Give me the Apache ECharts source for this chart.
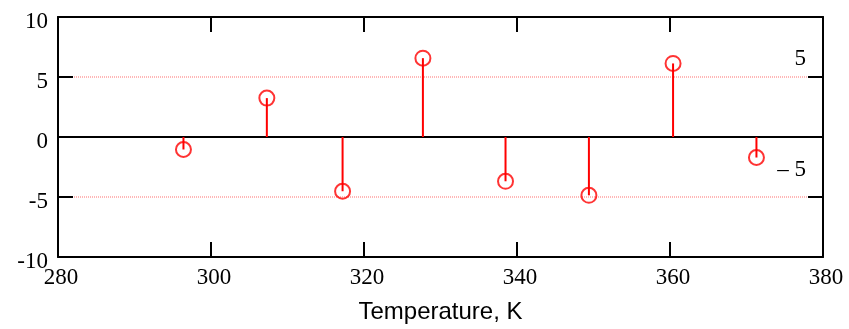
<!DOCTYPE html>
<html>
<head>
<meta charset="utf-8">
<script src="https://cdn.jsdelivr.net/npm/echarts@6/dist/echarts.min.js"></script>
<style>html,body{margin:0;padding:0;background:#fff}#c{width:849px;height:329px}</style>
</head>
<body>
<div id="c"></div>
<script>
const temperatures = [296.4, 307.3, 317.2, 327.7, 338.5, 349.4, 360.4, 371.3];
const residuals = [-1.04, 3.24, -4.52, 6.57, -3.69, -4.86, 6.13, -1.71];
const xTicks = [280, 300, 320, 340, 360, 380];
const yTicks = [-10, -5, 0, 5, 10];
const refLevels = [5, -5];
const refLabels = ['5', '\u2013 5'];
const xTitle = 'Temperature, K';

const points = temperatures.map((t, i) => [t, residuals[i]]);
const xMin = xTicks[0], xMax = xTicks[xTicks.length - 1];
const serif = 'Liberation Serif';
const chart = echarts.init(document.getElementById('c'));

const tickStyle = { show: true, inside: true, length: 15, lineStyle: { color: '#000', width: 2 } };
const lineStyle = { show: true, onZero: false, lineStyle: { color: '#000', width: 2 } };
const labelLift = [18, 27];

chart.setOption({
  animation: false,
  grid: { left: 58, right: 26, top: 17, bottom: 72 },
  xAxis: [
    {
      type: 'value', position: 'bottom', min: xMin, max: xMax, interval: 20, z: 5,
      axisLine: lineStyle, axisTick: tickStyle, splitLine: { show: false },
      axisLabel: { color: '#000', fontFamily: serif, fontSize: 23, margin: 9, padding: [0, 0, 0, 6] },
      name: xTitle, nameLocation: 'middle', nameGap: 43,
      nameTextStyle: { color: '#000', fontFamily: 'Liberation Sans', fontSize: 24 }
    },
    {
      type: 'value', position: 'top', min: xMin, max: xMax, interval: 20, z: 5,
      axisLine: lineStyle, axisTick: tickStyle, splitLine: { show: false }, axisLabel: { show: false }
    }
  ],
  yAxis: [
    {
      type: 'value', position: 'left', min: yTicks[0], max: yTicks[yTicks.length - 1], interval: 5, z: 5,
      axisLine: lineStyle, axisTick: tickStyle, splitLine: { show: false },
      axisLabel: { color: '#000', fontFamily: serif, fontSize: 23, margin: 10, verticalAlign: 'top', lineHeight: 9 }
    },
    {
      type: 'value', position: 'right', min: yTicks[0], max: yTicks[yTicks.length - 1], interval: 5, z: 5,
      axisLine: lineStyle, axisTick: tickStyle, splitLine: { show: false }, axisLabel: { show: false }
    }
  ],
  series: [
    {
      type: 'custom',
      silent: true,
      data: refLevels.map((v, i) => [v, i]),
      renderItem: function (params, api) {
        const lvl = api.value(0);
        const idx = api.value(1);
        const a = api.coord([xMin, lvl]);
        const b = api.coord([xMax, lvl]);
        const zy = api.coord([xMin, 0])[1];
        const children = [
          {
            type: 'line',
            shape: { x1: a[0], y1: a[1], x2: b[0], y2: b[1] },
            style: { stroke: '#ff7070', lineWidth: 1, lineDash: [1, 1] }
          },
          {
            type: 'text',
            style: {
              text: refLabels[idx], x: b[0] - 17, y: a[1] - labelLift[idx],
              align: 'right', verticalAlign: 'middle',
              fill: '#000', font: '23px "Liberation Serif"'
            }
          }
        ];
        if (idx === 0) {
          children.push({
            type: 'line',
            shape: { x1: a[0], y1: zy, x2: b[0], y2: zy },
            style: { stroke: '#000', lineWidth: 2 }
          });
        }
        return { type: 'group', children: children };
      },
      z: 1
    },
    {
      type: 'custom',
      data: points,
      renderItem: function (params, api) {
        const p0 = api.coord([api.value(0), 0]);
        const p1 = api.coord([api.value(0), api.value(1)]);
        return {
          type: 'line',
          shape: { x1: p0[0], y1: p0[1], x2: p1[0], y2: p1[1] },
          style: { stroke: '#ff0000', lineWidth: 2 }
        };
      },
      z: 3
    },
    {
      type: 'scatter',
      data: points,
      symbol: 'circle',
      symbolSize: 15,
      itemStyle: { color: 'rgba(0,0,0,0)', borderColor: '#ff0000', borderWidth: 2 },
      z: 4
    }
  ]
});
</script>
</body>
</html>
